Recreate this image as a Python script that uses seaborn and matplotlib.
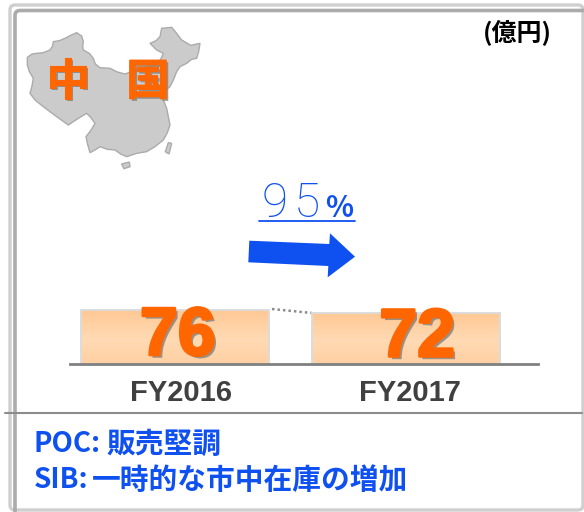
import numpy as np
import matplotlib
matplotlib.use("Agg")
import matplotlib.pyplot as plt
import matplotlib.patheffects as pe
from matplotlib.patches import FancyBboxPatch, Polygon
from matplotlib.transforms import ScaledTranslation
import seaborn as sns

fiscal_years = ["FY2016", "FY2017"]
sales = [76, 72]
title_chars = ["中", "国"]
unit_label = "(億円)"
ratio_number = "95"
ratio_sign = "%"
note_prefixes = ["POC:", "SIB:"]
note_bodies = ["販売堅調", "一時的な市中在庫の増加"]

BLUE = "#0F50F0"
ORANGE = "#FF6600"
CJK = ["Noto Sans CJK JP", "DejaVu Sans"]

sns.set_style("white")
plt.rcParams["font.family"] = ["Liberation Sans", "Noto Sans CJK JP", "DejaVu Sans"]

W, H = 584, 512
fig = plt.figure(figsize=(W / 100, H / 100), dpi=100, facecolor="white")

# overlay in pixel coordinates for the decorative slide items
ov = fig.add_axes([0, 0, 1, 1], zorder=0)
ov.set_xlim(0, W)
ov.set_ylim(H, 0)
ov.axis("off")

ov.add_patch(FancyBboxPatch((10, 5), 573, 505, boxstyle="round,pad=0,rounding_size=5",
                            fc="none", ec="#CFCFCF", lw=2.4))
ov.add_patch(FancyBboxPatch((15, 10.5), 590, 530, boxstyle="round,pad=0,rounding_size=5",
                            fc="none", ec="#ABABAB", lw=2.6))
ov.plot([5, 582], [413, 413], color="#8C8C8C", lw=1.5)

china = np.array([(82,172),(96,162),(110,160),(130,158),(150,150),(158,138),(160,125),(178,122),(195,115),
                  (212,106),(230,98),(245,108),(250,125),(248,140),(250,150),(268,160),(280,175),(286,192),
                  (300,203),(330,205),(352,216),(375,222),(398,214),(420,205),(445,200),(465,195),(482,178),
                  (490,160),(470,150),(450,130),(468,122),(480,110),(485,85),(515,82),(530,100),(545,120),
                  (572,136),(600,130),(596,155),(590,175),(575,178),(560,190),(540,200),(530,215),(520,240),
                  (510,260),(495,272),(480,290),(492,305),(500,325),(505,350),(510,375),(502,398),(490,420),
                  (465,440),(440,455),(410,460),(380,470),(362,462),(345,450),(322,448),(300,440),(285,450),
                  (270,458),(262,430),(258,410),(272,392),(285,370),(272,352),(260,340),(235,355),(205,375),
                  (170,350),(130,320),(105,300),(90,280),(96,258),(100,235),(88,215),(82,195)]) / 3
hainan = np.array([(365,492),(388,486),(390,500),(372,506)]) / 3
taiwan = np.array([(505,428),(515,430),(507,462),(496,455)]) / 3
for shape in (china, hainan, taiwan):
    ov.add_patch(Polygon(shape, closed=True, fc="#CBCBCB", ec="#ABABAB", lw=1.0))

shadow = [pe.withSimplePatchShadow(offset=(1.5, -1.5), shadow_rgbFace="#808080", alpha=0.8),
          pe.withStroke(linewidth=0.8, foreground=ORANGE)]
for ch, x in zip(title_chars, [68, 148]):
    ov.text(x, 82, ch, fontsize=31, fontweight="bold", color=ORANGE, family=CJK,
            ha="center", va="center", path_effects=shadow)

ov.text(517.5, 32, unit_label, fontsize=18, fontweight="bold", color="black", family=CJK,
        ha="center", va="center")

for ch, x in zip(ratio_number, [274.5, 306.5]):
    ov.text(x, 217, ch, fontsize=34.5, color=BLUE, family=["Roboto", "DejaVu Sans"],
            fontweight="light", ha="center", va="baseline")
ov.text(339, 217, ratio_sign, fontsize=21, fontweight="bold", color=BLUE, family=CJK,
        ha="center", va="baseline")
ov.plot([259, 355], [220.5, 220.5], color=BLUE, lw=1.3)

arrow = np.array([(249.3,240.7),(329.3,244),(330,233.3),(355,256.7),(327.7,277.3),(328.3,266),(248.3,262.3)])
ov.add_patch(Polygon(arrow, closed=True, fc=BLUE, ec="none"))

ov.plot([272, 312], [309, 313], color="#8C8C8C", lw=1.8, ls=(0, (1, 1.2)))

for prefix, body, x_body, y in zip(note_prefixes, note_bodies, [106, 92], [444, 480]):
    ov.text(34, y, prefix, fontsize=20, fontweight="bold", color=BLUE, family=CJK, ha="left", va="center")
    ov.text(x_body, y, body, fontsize=20.7, fontweight="bold", color=BLUE, family=CJK, ha="left", va="center")

# bars
ax = fig.add_axes([70 / W, (H - 364) / H, 468 / W, 64 / H], zorder=2)
ax.patch.set_alpha(0)
sns.barplot(x=fiscal_years, y=sales, width=0.815, color="#FFD2A6", saturation=1,
            edgecolor="#DCDCDC", linewidth=1.4, ax=ax)
ax.set_xlim(-0.4545, 1.571)
ax.set_ylim(0, 90)

c_top, c_mid = np.array([255, 200, 148]) / 255, np.array([255, 218, 180]) / 255
cols = np.array([c_top + (c_mid - c_top) * g for g in np.interp(np.linspace(0, 1, 40), [0, .55, 1], [0, 1, .45])])
for bar in ax.patches:
    bx, by, bw, bh = bar.get_x(), bar.get_y(), bar.get_width(), bar.get_height()
    im = ax.imshow(cols[:, None, :], extent=(bx, bx + bw, by, by + bh), aspect="auto", origin="upper", zorder=0.5)
    im.set_clip_path(bar)
    bar.set_facecolor("none")
    bar.set_zorder(1)
ax.set_xlim(-0.4545, 1.571)
ax.set_ylim(0, 90)

num_shadow = [pe.withSimplePatchShadow(offset=(2, -2), shadow_rgbFace="#808080", alpha=0.8),
              pe.withStroke(linewidth=2.0, foreground=ORANGE)]
for container in ax.containers:
    labels = ax.bar_label(container, labels=[str(v) for v in sales], label_type="center",
                          fontsize=49, fontweight="bold", color=ORANGE, clip_on=False)
    for t, dx in zip(labels, [2, 8]):
        t.set_path_effects(num_shadow)
        t.set_zorder(5)
        t.set_position((dx, 0))

sns.despine(ax=ax, left=True)
ax.spines["bottom"].set_color("#808080")
ax.spines["bottom"].set_linewidth(2)
ax.set_yticks([])
ax.tick_params(axis="x", length=0, pad=10.5)
ax.set_xticks([0, 1], fiscal_years, fontsize=21, fontweight="bold", color="#404040")
for lab, dx in zip(ax.get_xticklabels(), [6, 4]):
    lab.set_transform(lab.get_transform() + ScaledTranslation(dx / 100, 0, fig.dpi_scale_trans))

fig.savefig("out.png", dpi=100)
